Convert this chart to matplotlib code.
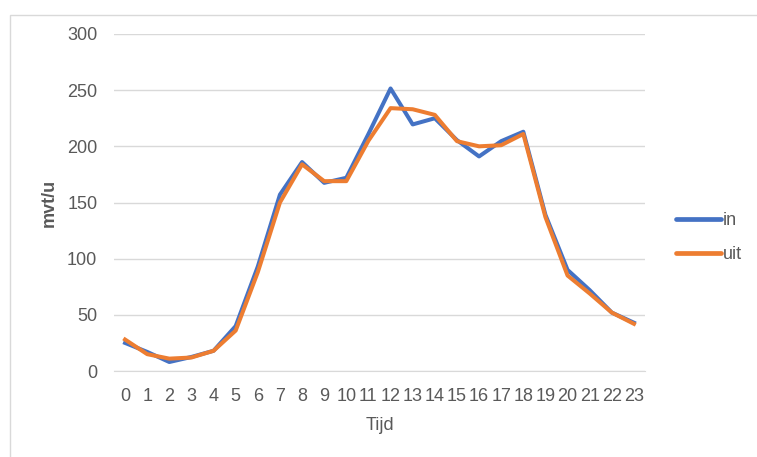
import matplotlib
matplotlib.use("Agg")
import matplotlib.pyplot as plt
from matplotlib.patches import Rectangle
from matplotlib import font_manager

# Hourly traffic counts (vehicles per hour)
hours = list(range(24))
tick_labels = [str(h) for h in hours]
in_values = [25, 17, 8, 12.5, 18, 40, 93, 157, 186, 167.5, 172, 211, 251.5, 219.5,
             225, 205.5, 191, 204.6, 213, 139, 90, 72, 52, 43]
uit_values = [28, 15, 11, 12, 18, 36, 88, 150, 184, 169, 169, 205, 234, 233,
              228, 204.6, 200, 201, 211, 137, 85, 69, 52, 42]
series_names = ["in", "uit"]
y_ticks = [0, 50, 100, 150, 200, 250, 300]

available = {f.name for f in font_manager.fontManager.ttflist}
family = "Liberation Sans Narrow" if "Liberation Sans Narrow" in available else "Liberation Sans"
plt.rcParams["font.family"] = [family, "DejaVu Sans"]

text_gray = "#595959"
grid_gray = "#D9D9D9"
blue = "#4472C4"
orange = "#ED7D31"

fig = plt.figure(figsize=(7.57, 4.57), dpi=100)
fig.patch.set_facecolor("white")

# Chart area border
fig.patches.append(Rectangle((10 / 757, -0.05), 1.2, (457 - 15) / 457 + 0.05,
                             transform=fig.transFigure, fill=False,
                             edgecolor=grid_gray, linewidth=1.0))

ax = fig.add_axes([114 / 757, (457 - 371) / 457, (645 - 114) / 757, (371 - 34) / 457])
ax.plot(hours, in_values, color=blue, linewidth=2.9, label=series_names[0],
        solid_joinstyle="round", zorder=3)
ax.plot(hours, uit_values, color=orange, linewidth=2.9, label=series_names[1],
        solid_joinstyle="round", zorder=4)

ax.set_xlim(-0.5, 23.5)
ax.set_ylim(0, 300)
ax.set_xticks(hours)
ax.set_xticklabels(tick_labels)
ax.set_yticks(y_ticks)
ax.yaxis.grid(True, color=grid_gray, linewidth=1.0)
ax.set_axisbelow(True)
for side in ["top", "right", "left"]:
    ax.spines[side].set_visible(False)
ax.spines["bottom"].set_color(grid_gray)
ax.tick_params(axis="both", length=0, labelsize=13, colors=text_gray)
ax.tick_params(axis="x", pad=12)
ax.tick_params(axis="y", pad=12)

ax.set_xlabel("Tijd", fontsize=13, color=text_gray, labelpad=9)
ax.set_ylabel("mvt/u", fontsize=13, color=text_gray, fontweight="bold", labelpad=7)

leg = ax.legend(loc="center left", bbox_to_anchor=((676 - 114) / 531, 0.395),
                frameon=False, fontsize=13, handlelength=2.5, handletextpad=0.1,
                labelspacing=0.95, borderpad=0, borderaxespad=0)
for t in leg.get_texts():
    t.set_color(text_gray)
for h in leg.get_lines():
    h.set_linewidth(3.4)
    h.set_solid_capstyle("round")

fig.savefig("out.png", dpi=100, facecolor="white")
